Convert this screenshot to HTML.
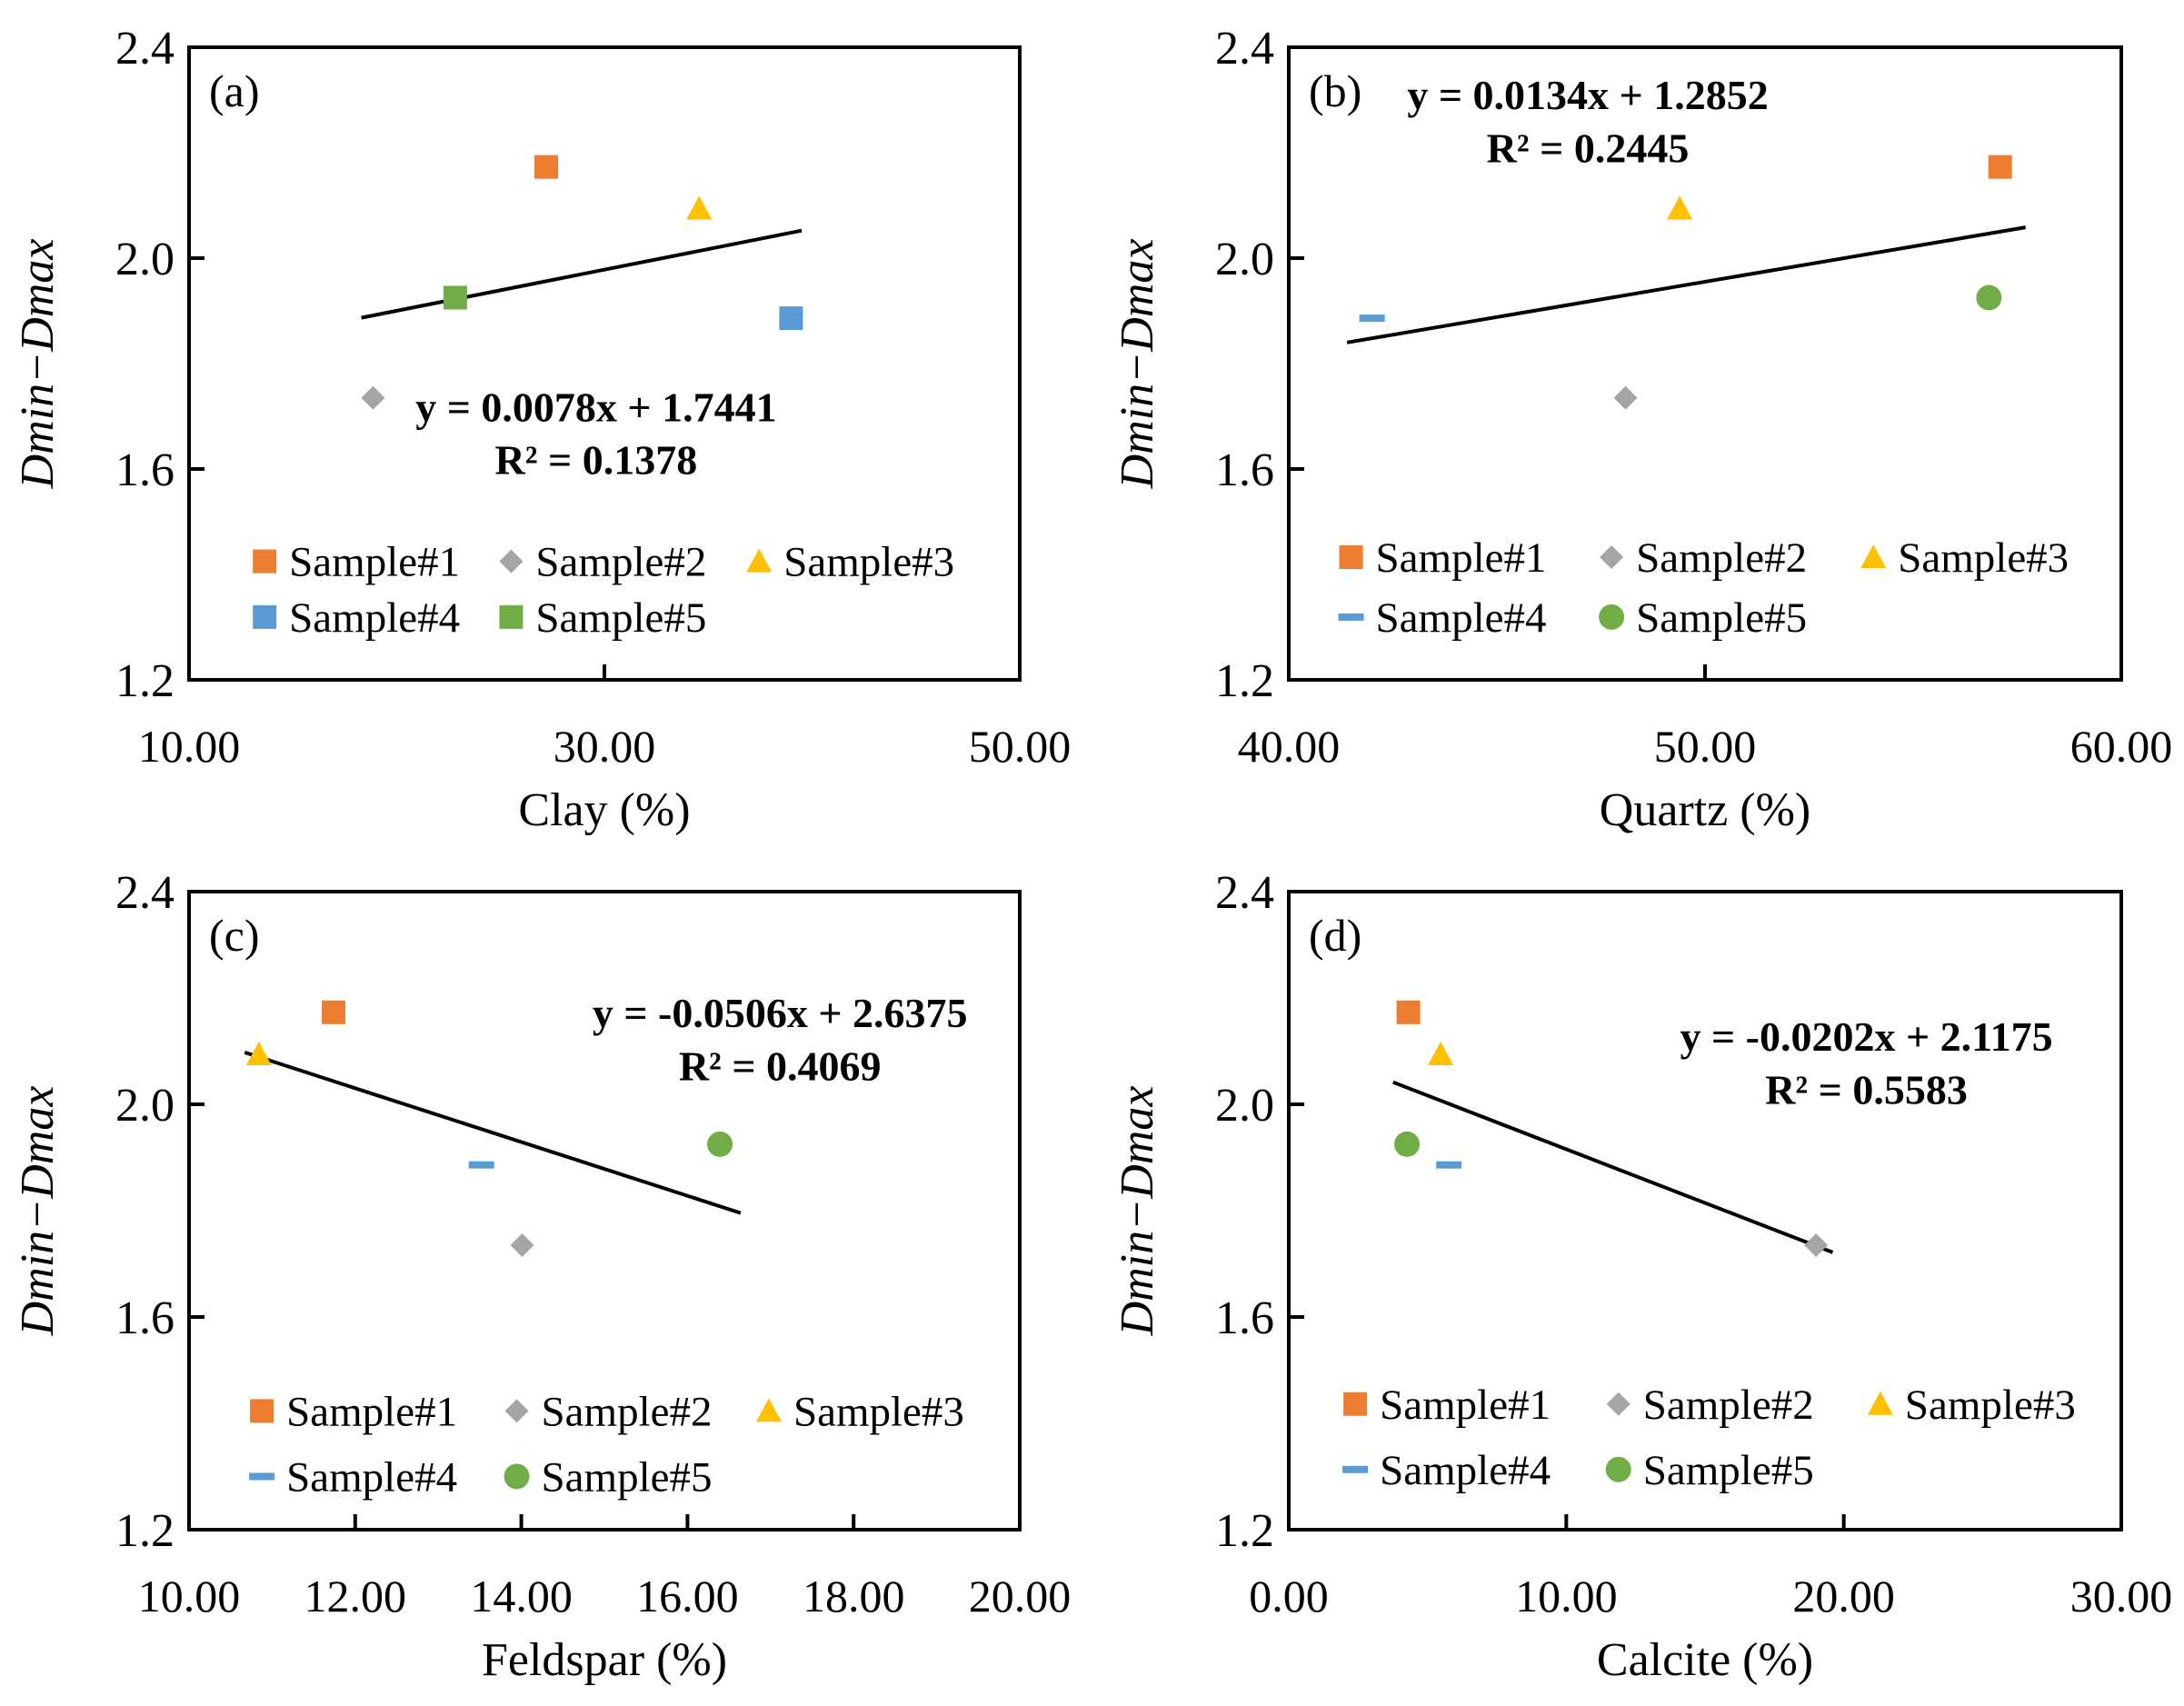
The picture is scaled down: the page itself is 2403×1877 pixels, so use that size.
<!DOCTYPE html>
<html><head><meta charset="utf-8">
<style>
html,body{margin:0;padding:0;background:#fff;}
svg{display:block;font-family:"Liberation Serif",serif;}
</style></head>
<body>
<svg id="fig" width="2403" height="1877" viewBox="0 0 2403 1877" xmlns="http://www.w3.org/2000/svg"></svg>
<script>
// ---- data ----
const sampleNames = ["Sample#1","Sample#2","Sample#3","Sample#4","Sample#5"];
const yValues = [2.173, 1.735, 2.094, 1.886, 1.925];
const clayX = [27.2, 18.86, 34.56, 38.99, 22.82];
const quartzX = [57.09, 48.09, 49.39, 42.0, 56.82];
const feldsparX = [11.74, 14.01, 10.84, 13.52, 16.39];
const calciteX = [4.31, 19.0, 5.47, 5.77, 4.26];
const slopes = [0.0078, 0.0134, -0.0506, -0.0202];
const intercepts = [1.7441, 1.2852, 2.6375, 2.1175];
const trendRanges = [[18.3, 39.5],[41.4, 57.7],[10.67, 16.64],[3.76, 19.6]];
const eqLabels = ["y = 0.0078x + 1.7441","y = 0.0134x + 1.2852","y = -0.0506x + 2.6375","y = -0.0202x + 2.1175"];
const r2Labels = ["R² = 0.1378","R² = 0.2445","R² = 0.4069","R² = 0.5583"];
const yTicks = [1.2, 1.6, 2.0, 2.4];
const xTicksA = [10, 30, 50];
const xTicksB = [40, 50, 60];
const xTicksC = [10, 12, 14, 16, 18, 20];
const xTicksD = [0, 10, 20, 30];
const xTitles = ["Clay (%)","Quartz (%)","Feldspar (%)","Calcite (%)"];
const panelLetters = ["(a)","(b)","(c)","(d)"];

const colors = ["#ED7D31","#A5A5A5","#FFC000","#5B9BD5","#70AD47"];
const S = 1.5325;
const panels = [
 {x0:208,x1:1122,y0:52,y1:748,xs:clayX,ticks:xTicksA,shapes:["sq","di","tri","sq","sq"],eq:[428,292],leg:{rows:[403,443],cols:[190,367,545]}},
 {x0:1418,x1:2334,y0:52,y1:748,xs:quartzX,ticks:xTicksB,shapes:["sq","di","tri","dash","circ"],eq:[1140,68],leg:{rows:[400,443],cols:[970,1157,1345]}},
 {x0:208,x1:1122,y0:981,y1:1683,xs:feldsparX,ticks:xTicksC,shapes:["sq","di","tri","dash","circ"],eq:[560,727],leg:{rows:[1013,1060],cols:[188,371,552]}},
 {x0:1418,x1:2334,y0:981,y1:1683,xs:calciteX,ticks:xTicksD,shapes:["sq","di","tri","dash","circ"],eq:[1340,744],leg:{rows:[1008,1055],cols:[973,1162,1350]}}
];
const svg = document.getElementById('fig');
const NS = "http://www.w3.org/2000/svg";
function mk(tag, attrs, parent){
  const e = document.createElementNS(NS, tag);
  for (const k in attrs) e.setAttribute(k, attrs[k]);
  (parent||svg).appendChild(e); return e;
}
function marker(shape, color, cx, cy, g){
  let e;
  if (shape==="sq") e = mk('rect',{x:cx-13,y:cy-13,width:26,height:26,fill:color},g);
  else if (shape==="di") e = mk('polygon',{points:`${cx},${cy-13} ${cx+13},${cy} ${cx},${cy+13} ${cx-13},${cy}`,fill:color},g);
  else if (shape==="tri") e = mk('polygon',{points:`${cx},${cy-14} ${cx+14},${cy+12} ${cx-14},${cy+12}`,fill:color},g);
  else if (shape==="dash") e = mk('rect',{x:cx-14,y:cy-4,width:28,height:8,fill:color},g);
  else e = mk('circle',{cx:cx,cy:cy,r:14,fill:color},g);
  return e;
}
panels.forEach((p, pi) => {
  const g = mk('g', {});
  
  
  const xmin = p.ticks[0], xmax = p.ticks[p.ticks.length-1];
  const X = v => p.x0 + (v - xmin)/(xmax - xmin)*(p.x1 - p.x0);
  const Y = v => p.y1 - (v - 1.2)/(2.4 - 1.2)*(p.y1 - p.y0);
  const frame = mk('rect',{x:p.x0,y:p.y0,width:p.x1-p.x0,height:p.y1-p.y0,fill:"none",stroke:"#000","stroke-width":4},g);
  
  
  yTicks.forEach(t => {
    const y = Y(t);
    if (t>1.2 && t<2.4) mk('line',{x1:p.x0,x2:p.x0+17,y1:y,y2:y,stroke:"#000","stroke-width":4},g);
    const tl = mk('text',{x:p.x0-16,y:y+18,"text-anchor":"end","font-size":52,fill:"#000"},g);
    tl.textContent = t.toFixed(1);
    
    
  });
  p.ticks.forEach((t, i) => {
    const x = X(t);
    if (i>0 && i<p.ticks.length-1) mk('line',{x1:x,x2:x,y1:p.y1,y2:p.y1-17,stroke:"#000","stroke-width":4},g);
    const tl = mk('text',{x:x,y:p.y1+90,"text-anchor":"middle","font-size":50,fill:"#000"},g);
    tl.textContent = t.toFixed(2);
    
    
  });
  const xt = mk('text',{x:(p.x0+p.x1)/2,y:p.y1+160,"text-anchor":"middle","font-size":52,fill:"#000"},g);
  xt.textContent = xTitles[pi];
  
  
  const cy = (p.y0+p.y1)/2, tx = p.x0-150;
  const yt = mk('text',{x:tx,y:cy,"text-anchor":"middle","font-size":52,"font-style":"italic",transform:`rotate(-90 ${tx} ${cy})`,fill:"#000"},g);
  yt.textContent = "Dmin−Dmax";
  
  
  const pl = mk('text',{x:p.x0+22,y:p.y0+65,"font-size":50,fill:"#000"},g);
  pl.textContent = panelLetters[pi];
  
  
  // trendline
  const r = trendRanges[pi];
  const tr = mk('line',{x1:X(r[0]),y1:Y(slopes[pi]*r[0]+intercepts[pi]),x2:X(r[1]),y2:Y(slopes[pi]*r[1]+intercepts[pi]),stroke:"#000","stroke-width":4},g);
  
  
  // points
  p.xs.forEach((xv, i) => {
    const m = marker(p.shapes[i], colors[i], X(xv), Y(yValues[i]), g);
    
    
  });
  // equation
  const e1 = mk('text',{x:p.eq[0]*S,y:p.eq[1]*S+16,"text-anchor":"middle","font-size":46,"font-weight":"bold",fill:"#000"},g);
  e1.textContent = eqLabels[pi];
  
  
  const e2 = mk('text',{x:p.eq[0]*S,y:(p.eq[1]+38)*S+16,"text-anchor":"middle","font-size":46,"font-weight":"bold",fill:"#000"},g);
  e2.textContent = r2Labels[pi];
  
  
  // legend
  sampleNames.forEach((n, i) => {
    const row = i<3 ? 0 : 1, col = i%3;
    const mx = p.leg.cols[col]*S, my = p.leg.rows[row]*S;
    const lg = mk('g',{},g);
    
    
    marker(p.shapes[i], colors[i], mx, my, lg);
    const lt = mk('text',{x:mx+27,y:my+16,"font-size":47,fill:"#000"},lg);
    lt.textContent = n;
  });
});
</script>
</body></html>
